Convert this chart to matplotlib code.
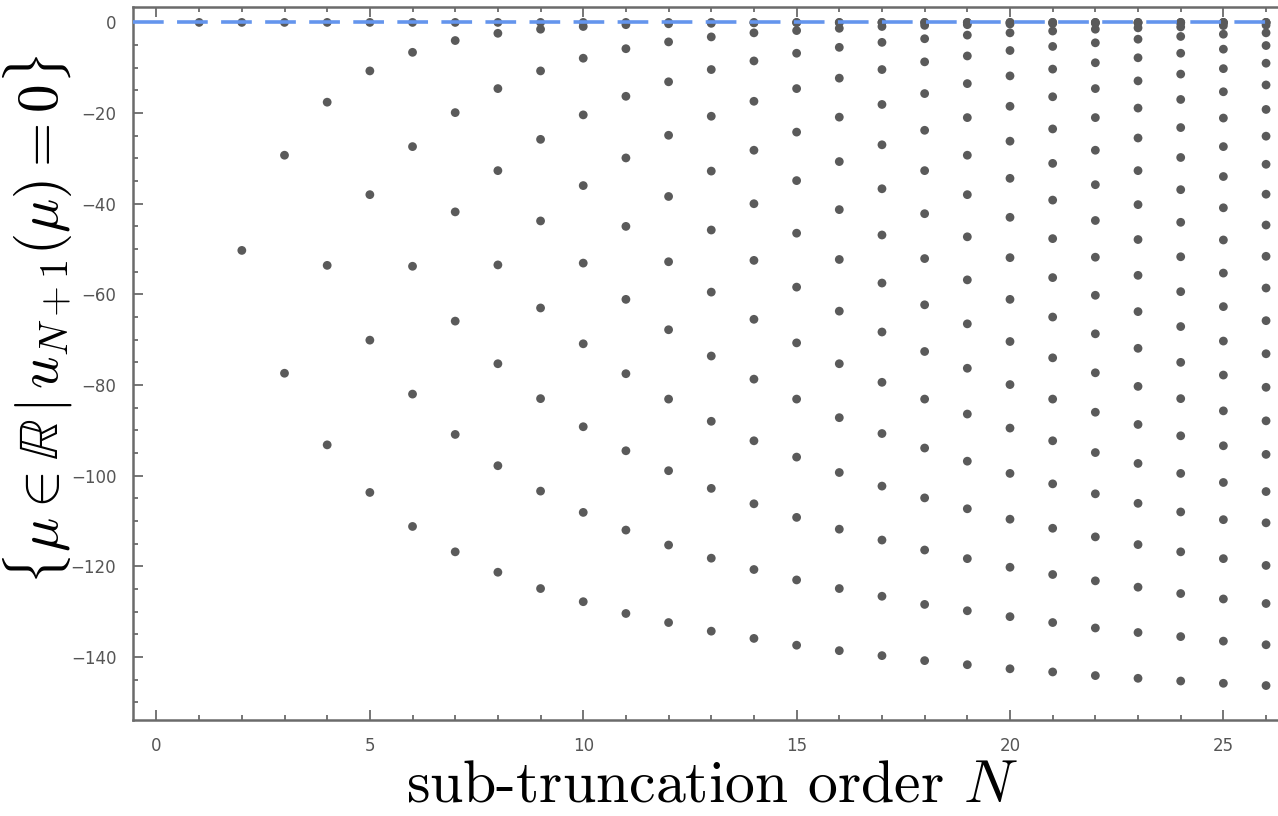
import numpy as np
import matplotlib
matplotlib.use("Agg")
import matplotlib.pyplot as plt
from matplotlib.ticker import MultipleLocator

plt.rcParams['mathtext.fontset'] = 'cm'

orders = list(range(1, 27))
mu_01 = [0]
mu_02 = [0, -50.3]
mu_03 = [0, -29.3, -77.4]
mu_04 = [0, -17.6, -53.6, -93.2]
mu_05 = [0, -10.7, -38.0, -70.1, -103.7]
mu_06 = [0, -6.6, -27.4, -53.8, -82.0, -111.2]
mu_07 = [0, -4.0, -19.9, -41.8, -65.9, -90.9, -116.8]
mu_08 = [0, -2.4, -14.6, -32.7, -53.5, -75.3, -97.8, -121.3]
mu_09 = [0, -1.5, -10.7, -25.8, -43.8, -63.0, -83.0, -103.4, -124.9]
mu_10 = [0, -0.9, -7.9, -20.4, -36.0, -53.1, -70.9, -89.2, -108.1, -127.8]
mu_11 = [0, -0.5, -5.8, -16.3, -29.9, -45.0, -61.1, -77.5, -94.5, -112.0, -130.4]
mu_12 = [0, -0.3, -4.3, -13.1, -24.9, -38.4, -52.8, -67.8, -83.1, -98.9, -115.3,
         -132.4]
mu_13 = [0, -0.2, -3.2, -10.4, -20.7, -32.8, -45.8, -59.5, -73.6, -88.0, -102.8,
         -118.2, -134.3]
mu_14 = [0, -0.1, -2.3, -8.5, -17.4, -28.2, -40.0, -52.5, -65.5, -78.7, -92.3,
         -106.2, -120.7, -135.9]
mu_15 = [0, -0.06, -1.8, -6.8, -14.6, -24.2, -34.9, -46.5, -58.4, -70.7, -83.1,
         -95.9, -109.2, -123.0, -137.4]
mu_16 = [0, -0.04, -1.3, -5.5, -12.3, -20.9, -30.7, -41.3, -52.3, -63.7, -75.3,
         -87.2, -99.3, -111.8, -124.9, -138.6]
mu_17 = [0, -0.02, -0.9, -4.4, -10.4, -18.1, -27.0, -36.7, -46.9, -57.5, -68.3,
         -79.4, -90.7, -102.3, -114.2, -126.6, -139.7]
mu_18 = [0, -0.01, -0.65, -3.6, -8.7, -15.7, -23.8, -32.7, -42.2, -52.1, -62.3,
         -72.6, -83.1, -93.9, -104.9, -116.4, -128.4, -140.8]
mu_19 = [0, -0.01, -0.5, -2.8, -7.4, -13.5, -21.0, -29.3, -38.0, -47.3, -56.8,
         -66.5, -76.3, -86.4, -96.8, -107.3, -118.3, -129.8, -141.7]
mu_20 = [0, -0.01, -0.35, -2.3, -6.2, -11.8, -18.5, -26.2, -34.4, -43.0, -51.9,
         -61.1, -70.4, -79.9, -89.5, -99.5, -109.6, -120.2, -131.1, -142.6]
mu_21 = [0, -0.01, -0.25, -1.9, -5.3, -10.3, -16.4, -23.5, -31.1, -39.2, -47.7,
         -56.3, -65.0, -74.0, -83.1, -92.3, -101.8, -111.6, -121.8, -132.4, -143.3]
mu_22 = [0, -0.01, -0.18, -1.5, -4.5, -8.9, -14.6, -21.0, -28.2, -35.8, -43.7,
         -51.8, -60.2, -68.7, -77.3, -86.0, -94.9, -104.0, -113.5, -123.2, -133.6,
         -144.1]
mu_23 = [0, -0.01, -0.12, -1.2, -3.7, -7.8, -12.9, -18.9, -25.5, -32.7, -40.2,
         -47.9, -55.8, -63.8, -71.9, -80.3, -88.7, -97.3, -106.1, -115.2, -124.6,
         -134.6, -144.7]
mu_24 = [0, -0.01, -0.1, -1.0, -3.1, -6.8, -11.4, -17.0, -23.2, -29.8, -36.9,
         -44.1, -51.7, -59.4, -67.1, -75.0, -83.0, -91.2, -99.5, -108.0, -116.8,
         -126.0, -135.5, -145.3]
mu_25 = [0, -0.01, -0.07, -0.7, -2.6, -5.9, -10.2, -15.3, -21.1, -27.4, -34.0,
         -40.9, -48.0, -55.3, -62.7, -70.3, -77.8, -85.7, -93.4, -101.5, -109.7,
         -118.3, -127.2, -136.5, -145.8]
mu_26 = [0, -0.01, -0.05, -0.6, -2.3, -5.1, -9.0, -13.8, -19.2, -25.1, -31.3,
         -37.9, -44.7, -51.6, -58.6, -65.8, -73.1, -80.5, -87.9, -95.3, -103.5,
         -110.4, -119.8, -128.2, -137.3, -146.3]

roots = [mu_01, mu_02, mu_03, mu_04, mu_05, mu_06, mu_07, mu_08, mu_09, mu_10,
         mu_11, mu_12, mu_13, mu_14, mu_15, mu_16, mu_17, mu_18, mu_19, mu_20,
         mu_21, mu_22, mu_23, mu_24, mu_25, mu_26]

xs = np.concatenate([[n] * len(r) for n, r in zip(orders, roots)])
ys = np.concatenate(roots)

gray = '#5a5a5a'
spine_gray = '#6b6b6b'

fig = plt.figure(figsize=(12.78, 8.16), dpi=100)
ax = fig.add_axes([133 / 1278, 96 / 816, 1145 / 1278, 713 / 816])

ax.scatter(xs, ys, s=40, color=gray, edgecolors='none', zorder=2)
ax.axhline(0, color='#6495ed', lw=2.6, dashes=(8.5, 3.7), zorder=3)

ax.set_xlim(-0.55, 26.28)
ax.set_ylim(-153.9, 3.4)

ax.xaxis.set_major_locator(MultipleLocator(5))
ax.xaxis.set_minor_locator(MultipleLocator(1))
ax.yaxis.set_major_locator(MultipleLocator(20))
ax.yaxis.set_minor_locator(MultipleLocator(5))

ax.spines['right'].set_visible(False)
for s in ['left', 'bottom', 'top']:
    ax.spines[s].set_color(spine_gray)
    ax.spines[s].set_linewidth(1.8)

ax.tick_params(which='both', direction='in', color=spine_gray, width=1.3,
               top=True, right=False, labelcolor='#555555')
ax.tick_params(which='major', length=7)
ax.tick_params(which='minor', length=3.5)
ax.tick_params(axis='x', pad=12)
ax.tick_params(axis='y', pad=12)
for lab in ax.get_xticklabels() + ax.get_yticklabels():
    lab.set_family(['Liberation Sans Narrow', 'DejaVu Sans'])
    lab.set_fontsize(12)

fig.text(712 / 1278, 1 - 802 / 816, r'sub-truncation order $N$',
         fontsize=43, family='cmr10', ha='center', va='baseline')
fig.text(38 / 1278, 1 - 320 / 816,
         r'$\{\mu \in \mathbb{R}\,|\,u_{N+1}(\mu) = 0\}$',
         fontsize=41, rotation=90, ha='center', va='center')

fig.savefig('out.png', dpi=100)
